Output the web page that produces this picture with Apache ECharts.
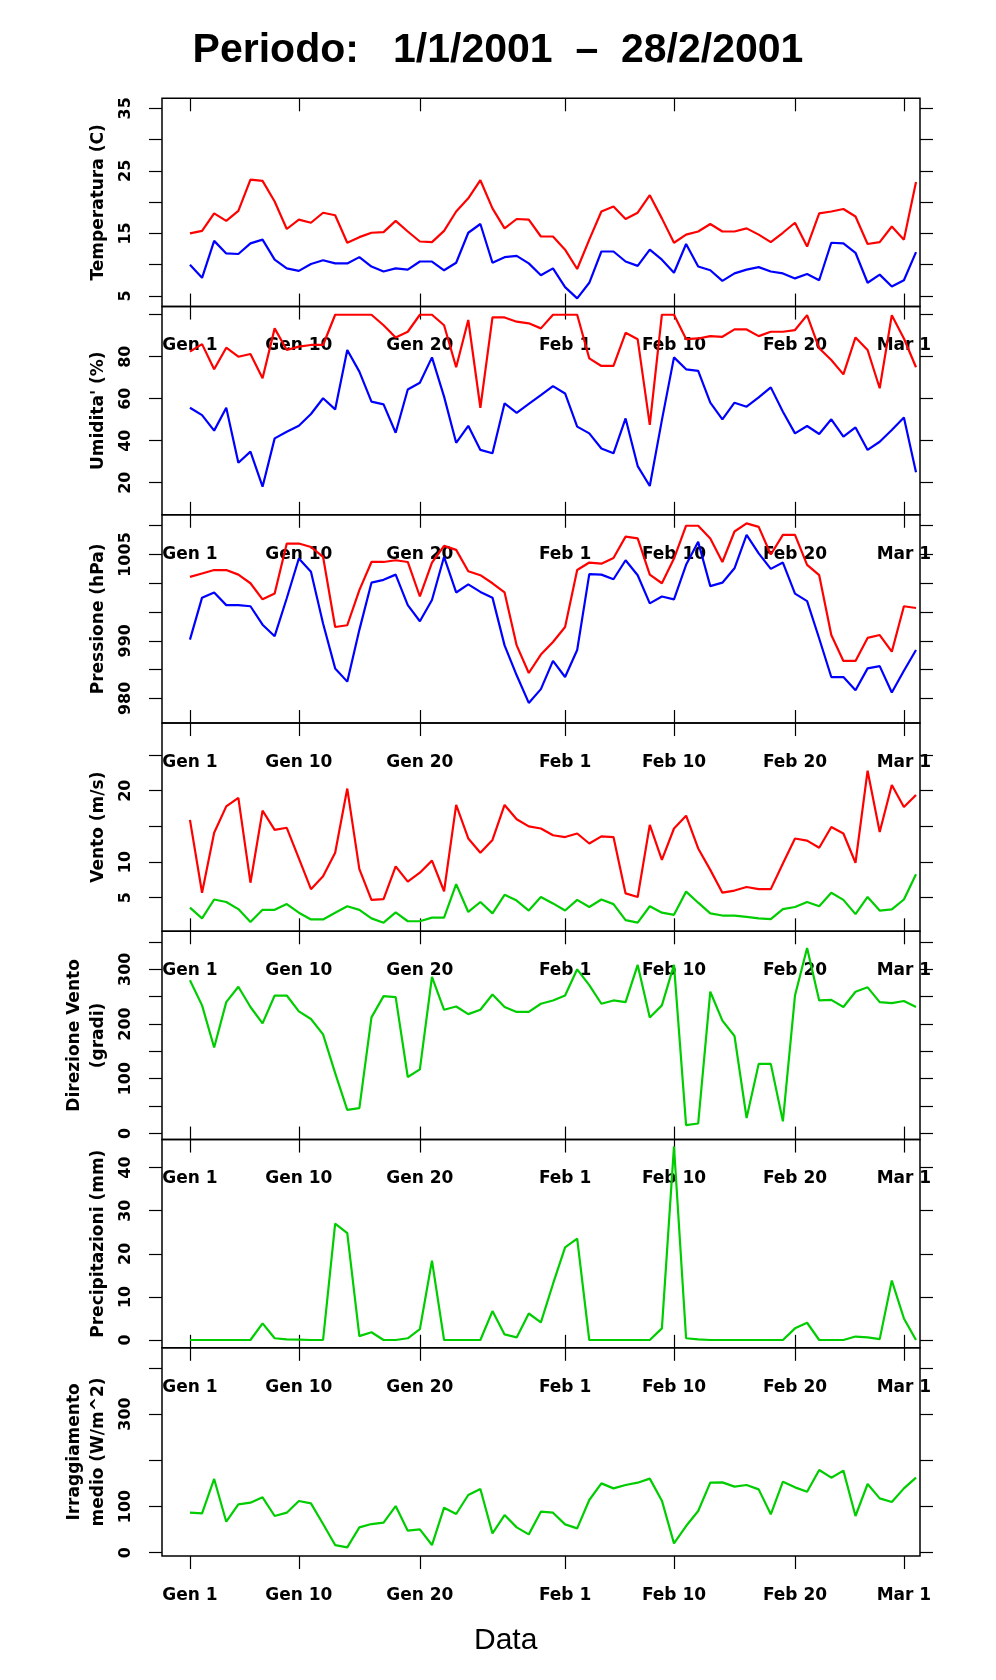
<!DOCTYPE html>
<html>
<head>
<meta charset="utf-8">
<script src="https://cdn.jsdelivr.net/npm/echarts@6/dist/echarts.min.js"></script>
<style>
html,body{margin:0;padding:0;background:#fff;}
#chart{width:996px;height:1680px;}
</style>
</head>
<body>
<div id="chart"></div>
<script>
// Day index 0 = 1 Jan 2001
const tickDays = [0, 9, 19, 31, 40, 50, 59];
const tickLabels = ['Gen 1', 'Gen 10', 'Gen 20', 'Feb 1', 'Feb 10', 'Feb 20', 'Mar 1'];

const tempMax = [15.0,15.4,18.2,17.0,18.6,23.6,23.4,20.1,15.7,17.2,16.7,18.3,17.9,13.5,14.4,15.1,15.2,17.0,15.3,13.7,13.6,15.4,18.5,20.6,23.5,19.0,15.8,17.3,17.2,14.5,14.5,12.4,9.3,14.0,18.5,19.3,17.3,18.3,21.1,17.4,13.5,14.8,15.3,16.5,15.3,15.3,15.8,14.8,13.6,15.1,16.7,12.9,18.2,18.5,18.9,17.7,13.3,13.6,16.1,14.0,23.2];
const tempMin = [10.0,7.9,13.8,11.8,11.7,13.4,14.0,10.8,9.4,9.0,10.1,10.7,10.2,10.2,11.2,9.7,8.9,9.4,9.2,10.5,10.5,9.1,10.3,15.1,16.5,10.3,11.2,11.4,10.2,8.3,9.4,6.4,4.6,7.1,12.1,12.1,10.5,9.8,12.4,10.8,8.7,13.3,9.7,9.1,7.4,8.6,9.2,9.6,8.9,8.6,7.8,8.5,7.5,13.5,13.4,11.9,7.1,8.4,6.5,7.5,12.0];

const humMax = [82.4,86,74,84.3,80,81.3,69.7,93.5,83.2,84.8,85.6,85.6,100,100,100,100,95,89.2,91.9,100,100,95,75,97.5,55.7,98.7,98.7,96.7,95.9,93.5,100,100,100,79.2,75.6,75.6,91.4,88.3,47.5,100,100,88.4,88.7,89.8,89.5,93,93,89.8,91.9,91.9,92.7,99.8,84,78.4,71.6,89.2,83.2,65,99.8,88.7,75];
const humMin = [55.7,52.2,44.8,55.7,29.5,34.8,18.1,41.1,44.3,47.1,52.7,60.2,54.9,83.2,72.9,58.6,57.3,43.8,64.4,67.6,79.7,61,39,47.1,35.6,34,57.8,53.3,57.5,61.7,66,62.5,46.7,43.5,36.3,34,50.6,27.9,18.4,49.8,79.7,74,73.3,58.1,50.2,58.1,56.2,60.6,65.4,53.8,43.5,47,43.2,50.2,41.9,46.3,35.6,39.5,45.1,51,25];

const presMax = [1001.1,1001.7,1002.3,1002.3,1001.5,1000.0,997.2,998.2,1006.9,1006.9,1006.3,1004.6,992.4,992.7,998.8,1003.7,1003.7,1004.0,1003.7,997.7,1003.6,1006.5,1005.8,1002.1,1001.4,1000.0,998.4,989.2,984.4,987.6,989.8,992.4,1002.3,1003.6,1003.4,1004.4,1008.1,1007.8,1001.5,1000.0,1004.3,1010.0,1010.0,1007.8,1003.7,1009.0,1010.4,1009.8,1005.0,1008.4,1008.4,1003.2,1001.4,991.0,986.5,986.5,990.5,991.0,988.1,996.0,995.7];
const presMin = [990.2,997.5,998.4,996.2,996.2,996.0,992.8,990.8,997.4,1004.3,1002.0,993.0,985.2,982.9,991.9,1000.1,1000.6,1001.5,996.2,993.4,997.1,1004.6,998.4,999.8,998.5,997.5,989.2,984.0,979.2,981.6,986.5,983.7,988.4,1001.6,1001.5,1000.7,1004.0,1001.4,996.5,997.7,997.2,1003.2,1007.2,999.5,1000.1,1002.6,1008.4,1005.2,1002.5,1003.6,998.2,996.9,990.4,983.7,983.7,981.4,985.2,985.6,981.0,984.8,988.4];

const windMax = [15.9,5.7,14.1,17.8,19.0,7.1,17.2,14.5,14.8,10.5,6.2,8.0,11.3,20.3,9.0,4.7,4.8,9.4,7.25,8.5,10.2,5.9,18.0,13.3,11.3,13.1,18.0,16.0,15.0,14.7,13.75,13.5,14.0,12.6,13.6,13.5,5.6,5.1,15.2,10.3,14.7,16.5,11.9,8.9,5.7,6.0,6.5,6.2,6.2,9.8,13.3,13.0,12.0,14.9,14.0,9.9,22.8,14.2,20.8,17.7,19.4];
const windMean = [3.6,2.1,4.75,4.4,3.4,1.6,3.3,3.3,4.1,2.9,1.95,1.95,2.9,3.8,3.3,2.1,1.5,2.95,1.7,1.7,2.2,2.2,6.9,3.0,4.4,2.8,5.4,4.6,3.2,5.1,4.2,3.2,4.7,3.7,4.75,4.1,1.85,1.5,3.8,2.9,2.6,5.85,4.3,2.8,2.5,2.5,2.3,2.1,2.0,3.4,3.7,4.4,3.8,5.7,4.7,2.7,5.1,3.2,3.35,4.75,8.3];

const windDir = [280,234,157,240,268,231,201,252,252,223,209,181,110,43,46,212,251,249,103,117,286,226,232,218,226,254,231,222,222,237,243,252,300,271,237,243,240,308,212,234,308,15,18,259,206,178,28,127,127,22,252,339,243,244,231,259,267,240,238,242,231];

const precip = [0,0,0,0,0,0,3.85,0.4,0.15,0.1,0,0,27,24.8,0.9,1.8,0,0,0.4,2.5,18.4,0,0,0,0,6.7,1.3,0.6,6.15,4.1,13,21.5,23.5,0,0,0,0,0,0,2.7,44.9,0.4,0.15,0,0,0,0,0,0,0,2.7,4.0,0,0,0,0.8,0.6,0.2,13.8,5.0,0];

const irrad = [86.6,85.1,159.5,67.1,104.6,108.2,119.8,79.4,86.6,111.8,106.8,62,16.6,11.5,54.8,62,64.9,101,47.6,50.5,16.6,97.4,83.7,124.8,137.8,41.8,81.5,54.8,39.7,88.7,86.6,61.3,52.7,114,150,139.2,146.5,151.5,160.2,112.6,20.2,57.7,90.2,151.5,152.2,142.9,146.5,137,83,153.7,141.4,132,179,162.3,177.5,79.4,148.6,117.6,109.7,139.2,162.3];

const RED = '#ff0000', BLUE = '#0000ff', GREEN = '#00cd00';

const panels = [
  {name: 'Temperatura (C)', min: 3.3, max: 36.6, ticks: [5,10,15,20,25,30,35], labels: [5,15,25,35],
   lines: [[tempMax, RED], [tempMin, BLUE]]},
  {name: "Umidita' (%)", min: 4.7, max: 103.9, ticks: [20,40,60,80,100], labels: [20,40,60,80],
   lines: [[humMax, RED], [humMin, BLUE]]},
  {name: 'Pressione (hPa)', min: 975.7, max: 1011.9, ticks: [980,985,990,995,1000,1005,1010], labels: [980,990,1005],
   lines: [[presMax, RED], [presMin, BLUE]]},
  {name: 'Vento (m/s)', min: 0.29, max: 29.48, ticks: [5,10,15,20,25], labels: [5,10,20],
   lines: [[windMax, RED], [windMean, GREEN]]},
  {name: 'Direzione Vento\n(gradi)', min: -11.4, max: 369.5, ticks: [0,50,100,150,200,250,300,350], labels: [0,100,200,300],
   lines: [[windDir, GREEN]]},
  {name: 'Precipitazioni (mm)', min: -1.81, max: 46.5, ticks: [0,10,20,30,40], labels: [0,10,20,30,40],
   lines: [[precip, GREEN]]},
  {name: 'Irraggiamento\nmedio (W/m^2)', min: -7.2, max: 443.2, ticks: [0,100,200,300,400], labels: [0,100,300],
   lines: [[irrad, GREEN]]}
];

const labelMap = {};
tickDays.forEach((d, k) => { labelMap[d] = tickLabels[k]; });

const X_MIN = -2.31, X_MAX = 60.33;
const TOP0 = 98.3, STEP = 208.25;
const grids = [], xAxes = [], yAxes = [], series = [];
const tickStyle = {color: '#000', width: 1.2};
const boldFont = {fontFamily: 'DejaVu Sans', fontWeight: 'bold', color: '#000'};
const noLine = {show: false, onZero: false};

panels.forEach((p, i) => {
  grids.push({left: 162, width: 758, top: TOP0 + STEP * i, height: STEP,
    show: true, borderColor: '#000', borderWidth: 1.5, backgroundColor: 'transparent'});
  // bottom x axis with labels
  xAxes.push({gridIndex: i, type: 'value', min: X_MIN, max: X_MAX, position: 'bottom',
    axisLine: noLine, splitLine: {show: false},
    axisTick: {show: true, inside: false, length: 13, customValues: tickDays, lineStyle: tickStyle},
    axisLabel: Object.assign({show: true, customValues: tickDays, margin: 31, fontSize: 17,
      formatter: v => labelMap[v] || ''}, boldFont)});
  // top x axis ticks only
  xAxes.push({gridIndex: i, type: 'value', min: X_MIN, max: X_MAX, position: 'top',
    axisLine: noLine, splitLine: {show: false},
    axisTick: {show: true, inside: i === 0, length: 13, customValues: tickDays, lineStyle: tickStyle},
    axisLabel: {show: false}});
  // left y axis
  yAxes.push({gridIndex: i, type: 'value', min: p.min, max: p.max, position: 'left',
    name: p.name, nameLocation: 'middle', nameRotate: 90, nameGap: 43,
    nameTextStyle: Object.assign({fontSize: 17, lineHeight: 24, align: 'center'}, boldFont),
    axisLine: noLine, splitLine: {show: false},
    axisTick: {show: true, inside: false, length: 13, customValues: p.ticks, lineStyle: tickStyle},
    axisLabel: Object.assign({show: true, customValues: p.labels, rotate: 90, margin: 28, fontSize: 16,
      formatter: v => String(v)}, boldFont)});
  // right y axis ticks only
  yAxes.push({gridIndex: i, type: 'value', min: p.min, max: p.max, position: 'right',
    axisLine: noLine, splitLine: {show: false},
    axisTick: {show: true, inside: false, length: 13, customValues: p.ticks, lineStyle: tickStyle},
    axisLabel: {show: false}});
  p.lines.forEach(([arr, color]) => {
    series.push({type: 'line', xAxisIndex: 2 * i, yAxisIndex: 2 * i,
      data: arr.map((v, d) => [d, v]), showSymbol: false, symbol: 'none',
      lineStyle: {color: color, width: 2.2}, itemStyle: {color: color},
      clip: true, silent: true});
  });
});

const chart = echarts.init(document.getElementById('chart'), null, {renderer: 'canvas'});
chart.setOption({
  animation: false,
  backgroundColor: '#ffffff',
  title: [
    {text: 'Periodo:   1/1/2001  \u2013  28/2/2001', left: 'center', top: 30, padding: 0,
     textStyle: {fontFamily: 'Liberation Sans', fontSize: 41, fontWeight: 'bold', color: '#000'}},
    {text: 'Data', left: 474, top: 1626, padding: 0,
     textStyle: {fontFamily: 'Liberation Sans', fontSize: 30, fontWeight: 'normal', color: '#000'}}
  ],
  grid: grids,
  xAxis: xAxes,
  yAxis: yAxes,
  series: series
});
</script>
</body>
</html>
